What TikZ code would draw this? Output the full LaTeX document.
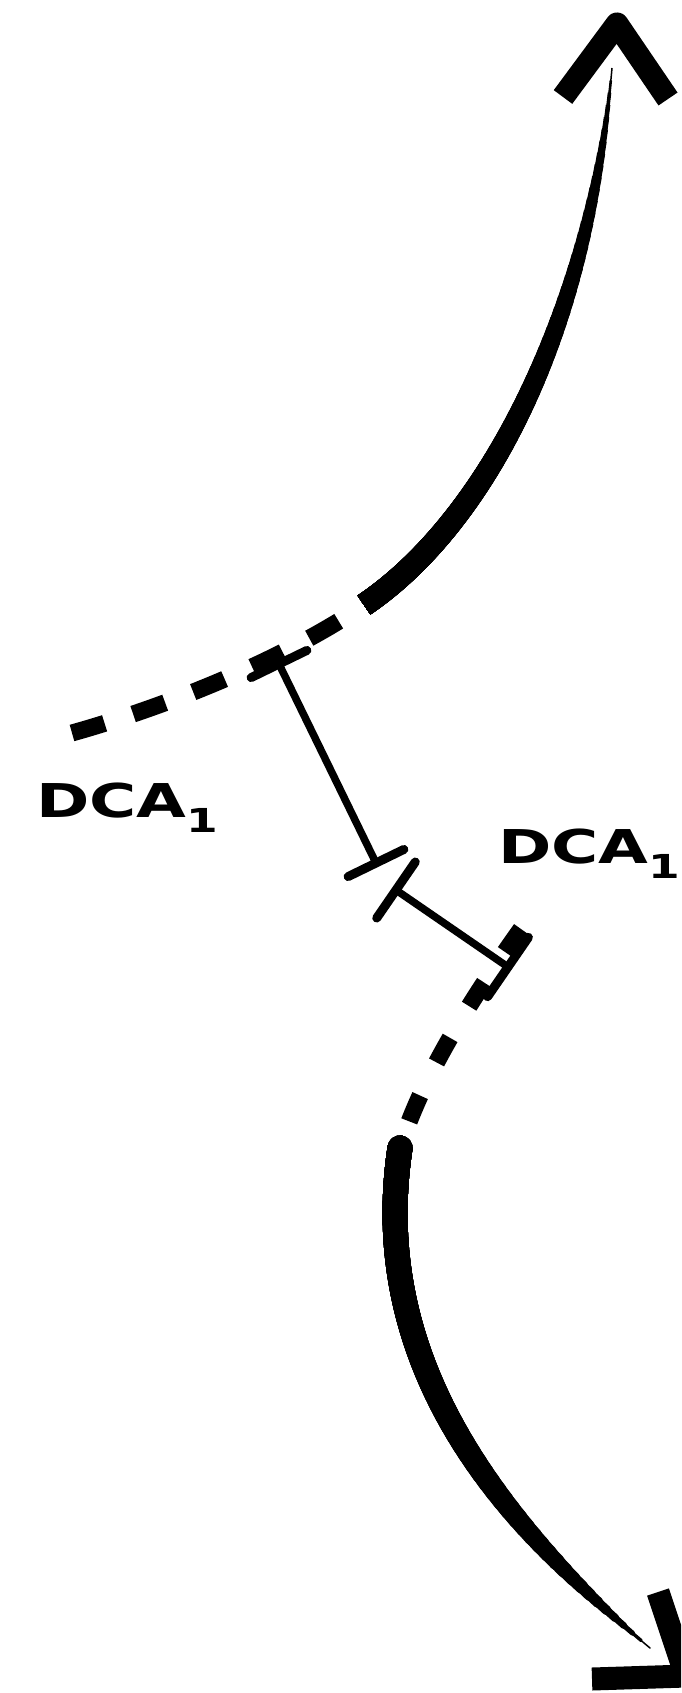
\documentclass[tikz,border=0pt]{standalone}
\usepackage{fontspec}
\setmainfont{DejaVu Sans}
\usetikzlibrary{calc}
% cubic Bezier control points for a brush stroke
\def\setbez(#1,#2)(#3,#4)(#5,#6)(#7,#8){%
  \def\bxa{#1}\def\bya{#2}\def\bxb{#3}\def\byb{#4}%
  \def\bxc{#5}\def\byc{#6}\def\bxd{#7}\def\byd{#8}}
% tapered brush stroke: nested sub-curves [0,s] of decreasing width
% #1 start width, #2 end width, #3 number of pieces, #4 taper exponent, #5 line cap
\newcommand\brushdraw[5]{%
  \foreach \k in {1,...,#3}{%
    \pgfmathsetmacro\bS{\k/#3}%
    \pgfmathsetmacro\bQ{1-\bS}%
    \pgfmathsetmacro\qxa{\bQ*\bxa+\bS*\bxb}%
    \pgfmathsetmacro\qya{\bQ*\bya+\bS*\byb}%
    \pgfmathsetmacro\qxb{\bQ*\bQ*\bxa+2*\bS*\bQ*\bxb+\bS*\bS*\bxc}%
    \pgfmathsetmacro\qyb{\bQ*\bQ*\bya+2*\bS*\bQ*\byb+\bS*\bS*\byc}%
    \pgfmathsetmacro\qxc{\bQ*\bQ*\bQ*\bxa+3*\bQ*\bQ*\bS*\bxb+3*\bQ*\bS*\bS*\bxc+\bS*\bS*\bS*\bxd}%
    \pgfmathsetmacro\qyc{\bQ*\bQ*\bQ*\bya+3*\bQ*\bQ*\bS*\byb+3*\bQ*\bS*\bS*\byc+\bS*\bS*\bS*\byd}%
    \pgfmathsetmacro\bW{#2+(#1-#2)*(1-\bS^#4)}%
    \draw[line width=\bW pt, line cap=#5] (\bxa,\bya) .. controls (\qxa,\qya) and (\qxb,\qyb) .. (\qxc,\qyc);
  }}
\tikzset{
  dashtop/.style={line width=17pt, dash pattern=on 34pt off 30pt},
  dashbot/.style={line width=17pt, dash pattern=on 28pt off 37pt},
  dcaline/.style={line width=7.5pt, line cap=round},
  dcatick/.style={line width=9pt, line cap=round},
  arrowhd/.style={line width=23pt, line join=round},
  dcalabel/.style={anchor=base west, inner sep=0pt, outer sep=0pt}
}
\newcommand\dcatext{\scalebox{1.38}[1]{\bfseries\fontsize{46.6}{50}\selectfont DCA\raisebox{-15pt}{\fontsize{33}{33}\selectfont 1}}}
\begin{document}
\begin{tikzpicture}[x=1pt,y=-1pt]
\useasboundingbox (0,0) rectangle (681,1693);
\fill[white] (0,0) rectangle (681,1693);
\clip (0,0) rectangle (681,1693);
% top trajectory
\coordinate (t0) at (72,733);
\coordinate (t1) at (364,605);
\coordinate (t2) at (612,68);
\draw[dashtop] (t0) .. controls (168,706) and (283,660) .. (t1);
\setbez(364,605)(490,520)(590,317)(612,68)
\brushdraw{23}{1.5}{60}{3}{butt}
\coordinate (ta1) at (563,97);
\coordinate (ta2) at (617,24);
\coordinate (ta3) at (668,99);
\draw[arrowhd] (ta1) -- (ta2) -- (ta3);
% bottom trajectory
\coordinate (b0) at (521,929);
\coordinate (b1) at (409,1122);
\coordinate (b2) at (400,1148);
\coordinate (b3) at (650,1648);
\draw[dashbot] (b0) .. controls (481,985) and (434,1057) .. (b1);
\setbez(400,1148)(367,1368)(505,1527)(650,1648)
\brushdraw{25}{1.5}{50}{4}{round}
\coordinate (ba1) at (658,1592);
\coordinate (ba2) at (686,1676);
\coordinate (ba3) at (592,1679);
\draw[arrowhd] (ba1) -- (ba2) -- (ba3);
% DCA segments
\coordinate (A) at (279,664);
\coordinate (B) at (376,863);
\coordinate (C) at (396,890);
\coordinate (D) at (508,967);
\draw[dcaline] (A) -- (B);
\draw[dcaline] (C) -- (D);
\draw[dcatick] ($(A)!31pt!90:(B)$) -- ($(A)!31pt!-90:(B)$);
\draw[dcatick] ($(B)!31pt!90:(A)$) -- ($(B)!31pt!-90:(A)$);
\draw[dcatick] ($(C)!34pt!90:(D)$) -- ($(C)!34pt!-90:(D)$);
\draw[dcatick] ($(D)!36pt!90:(C)$) -- ($(D)!36pt!-90:(C)$);
% labels
\node[dcalabel] (l1) at (36,817) {\dcatext};
\node[dcalabel] (l2) at (498,863) {\dcatext};
\end{tikzpicture}
\end{document}
